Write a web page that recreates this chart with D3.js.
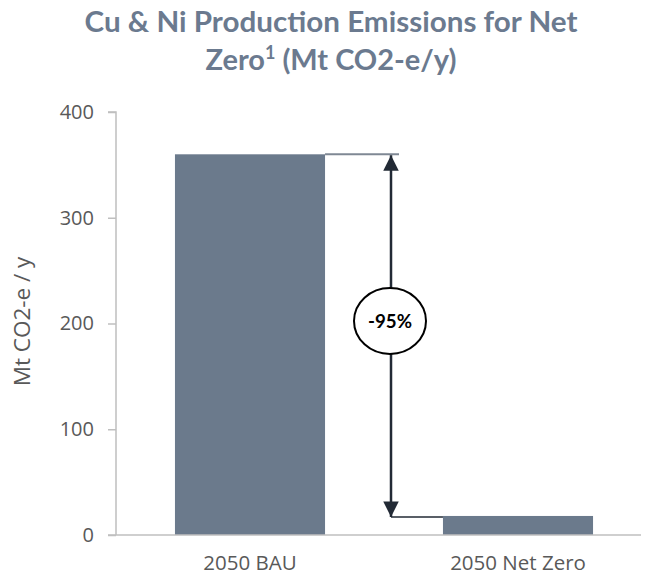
<!DOCTYPE html>
<html>
<head>
<meta charset="utf-8">
<script src="https://cdn.jsdelivr.net/npm/d3@7"></script>
<style>
  html, body { margin: 0; padding: 0; background: #fff; }
  svg { display: block; }
</style>
</head>
<body>
<svg id="chart" width="653" height="577"></svg>
<script>
// Emissions per scenario (Mt CO2-e / y)
const categories = ["2050 BAU", "2050 Net Zero"];
const values = [360, 18];
const yTicks = [0, 100, 200, 300, 400];
const changeLabel = "-95%";
const titleLine1 = "Cu & Ni Production Emissions for Net";
const titleLine2 = ["Zero", "1", " (Mt CO2-e/y)"]; // text, footnote mark, unit
const yAxisLabel = "Mt CO2-e / y";

const svg = d3.select("#chart");
const margin = { left: 116, right: 1, top: 112, bottom: 42 };
const W = 653, H = 577;

const x = d3.scaleBand().domain(categories)
  .range([margin.left, W - margin.right]).paddingInner(0.44).paddingOuter(0.22);
const y = d3.scaleLinear().domain([0, 400]).range([H - margin.bottom, margin.top]);

const font = "'Open Sans', 'Liberation Sans', sans-serif";
const headFont = "Lato, 'Open Sans', sans-serif";
const axisColor = "#bfbfbf";
const textColor = "#595959";
const barColor = "#6b7a8c";

// Title (two centred lines, condensed to a fixed width)
const title = svg.append("g")
  .attr("font-family", headFont).attr("font-weight", "bold")
  .attr("font-size", 29).attr("fill", "#6b7a8f").attr("text-anchor", "middle");
title.append("text").attr("x", 331).attr("y", 32)
  .attr("textLength", 493).attr("lengthAdjust", "spacingAndGlyphs")
  .text(titleLine1);
const t2 = title.append("text").attr("x", 331).attr("y", 70)
  .attr("textLength", 251).attr("lengthAdjust", "spacingAndGlyphs");
t2.append("tspan").text(titleLine2[0]);
t2.append("tspan").attr("font-size", 18).attr("dy", -11).text(titleLine2[1]);
t2.append("tspan").attr("dy", 11).text(titleLine2[2]);

// Bars
svg.append("g").selectAll("rect").data(values).join("rect")
  .attr("x", (d, i) => x(categories[i]))
  .attr("width", x.bandwidth())
  .attr("y", d => y(d))
  .attr("height", d => y(0) - y(d))
  .attr("fill", barColor);

// Y axis
const yAxis = svg.append("g").attr("transform", `translate(${margin.left},0)`)
  .call(d3.axisLeft(y).tickValues(yTicks).tickSize(8).tickPadding(14).tickFormat(d3.format("d")));
yAxis.select(".domain").attr("stroke", axisColor).attr("stroke-width", 1.5)
  .attr("d", `M-8,${y(400)}H0V${y(0)}`);
yAxis.selectAll(".tick line").attr("stroke", axisColor).attr("stroke-width", 1.5);
yAxis.selectAll(".tick text").attr("font-family", font).attr("font-size", 20).attr("fill", textColor);

// X axis
const xAxis = svg.append("g").attr("transform", `translate(0,${y(0)})`)
  .call(d3.axisBottom(x).tickSize(0).tickPadding(20));
xAxis.select(".domain").attr("stroke", axisColor).attr("stroke-width", 1.5)
  .attr("d", `M${margin.left - 8},0H${W - 12}`);
xAxis.selectAll(".tick text").attr("font-family", font).attr("font-size", 20.5).attr("fill", textColor)
  .attr("dy", "0.71em");

// Y axis title
svg.append("text")
  .attr("transform", `translate(30,${(y(0) + y(400)) / 2 - 2}) rotate(-90)`)
  .attr("text-anchor", "middle")
  .attr("font-family", font).attr("font-size", 22.5).attr("fill", textColor)
  .text(yAxisLabel);

// Reduction annotation
const ax = 391;
const topY = y(values[0]);
const botY = y(values[1]);
const defs = svg.append("defs");
defs.append("marker").attr("id", "arrowHead")
  .attr("viewBox", "0 0 10 10").attr("refX", 10).attr("refY", 5)
  .attr("markerWidth", 7).attr("markerHeight", 6.2).attr("markerUnits", "strokeWidth")
  .attr("orient", "auto-start-reverse")
  .append("path").attr("d", "M0,0L10,5L0,10Z").attr("fill", "#222a35");

svg.append("line")
  .attr("x1", x(categories[0]) + x.bandwidth()).attr("x2", 399)
  .attr("y1", topY).attr("y2", topY)
  .attr("stroke", "#7f8894").attr("stroke-width", 2);
svg.append("line")
  .attr("x1", ax).attr("x2", x(categories[1]))
  .attr("y1", botY + 1).attr("y2", botY + 1)
  .attr("stroke", "#222a35").attr("stroke-width", 1.5);
svg.append("line")
  .attr("x1", ax).attr("x2", ax)
  .attr("y1", topY + 1).attr("y2", botY + 1)
  .attr("stroke", "#222a35").attr("stroke-width", 2.5)
  .attr("marker-start", "url(#arrowHead)").attr("marker-end", "url(#arrowHead)");

const cy = 321;
svg.append("ellipse").attr("cx", 390).attr("cy", cy).attr("rx", 36).attr("ry", 33)
  .attr("fill", "#fff").attr("stroke", "#000").attr("stroke-width", 2);
svg.append("text").attr("x", 390).attr("y", cy).attr("dy", "0.36em")
  .attr("text-anchor", "middle").attr("font-family", headFont).attr("font-weight", "bold")
  .attr("font-size", 19).attr("fill", "#000")
  .attr("textLength", 44).attr("lengthAdjust", "spacingAndGlyphs")
  .text(changeLabel);
</script>
</body>
</html>
